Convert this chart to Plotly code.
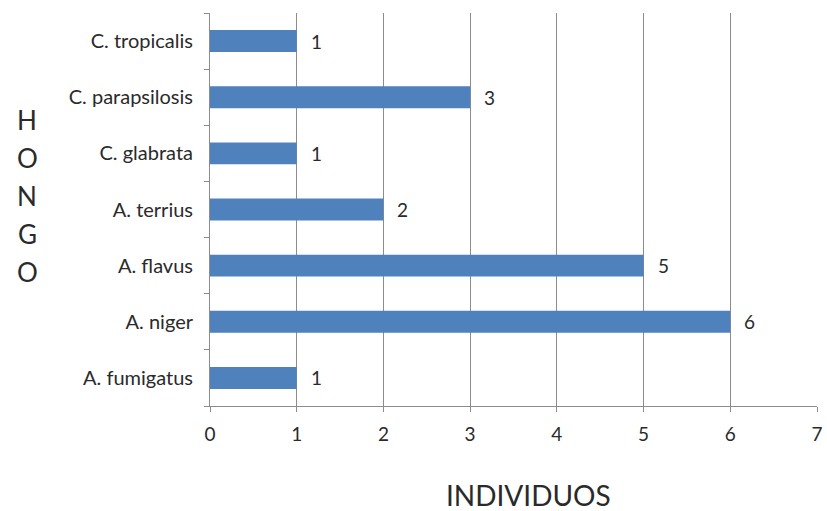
import plotly.graph_objects as go

# Species (bottom to top) and number of individuals
hongos = ["A. fumigatus", "A. niger", "A. flavus", "A. terrius",
          "C. glabrata", "C. parapsilosis", "C. tropicalis"]
individuos = [1, 6, 5, 2, 1, 3, 1]
x_ticks = [0, 1, 2, 3, 4, 5, 6, 7]

FONT = "Lato"
TEXT = "#2a2a2a"
GRID = "#8c8c8c"
BAR = "#4f81bd"

W, H = 827, 511
ml, mr, mt, mb = 210, 10, 13, 105
pw, ph = W - ml - mr, H - mt - mb


def px_x(x):
    return (x - ml) / pw


def px_y(y):
    return 1 - (y - mt) / ph


fig = go.Figure()
fig.add_trace(go.Bar(
    y=hongos, x=individuos, orientation="h",
    marker=dict(color=BAR, line=dict(width=0)),
    hoverinfo="x+y",
))

# value labels to the right of each bar
for h, v in zip(hongos, individuos):
    fig.add_annotation(x=v, y=h, text=str(v), showarrow=False,
                       xanchor="left", xshift=12,
                       font=dict(family=FONT, size=19, color=TEXT))

# vertical axis title, one letter per line
for i, ch in enumerate("HONGO"):
    fig.add_annotation(x=px_x(27), y=px_y(120 + 38 * i), xref="paper", yref="paper",
                       text=ch, showarrow=False, xanchor="center", yanchor="middle",
                       font=dict(family=FONT, size=26, color=TEXT))

fig.add_annotation(x=px_x(528), y=px_y(495), xref="paper", yref="paper",
                   text="INDIVIDUOS", showarrow=False, xanchor="center", yanchor="middle",
                   font=dict(family=FONT, size=28, color=TEXT))

fig.update_layout(
    width=W, height=H,
    margin=dict(l=ml, r=mr, t=mt, b=mb),
    paper_bgcolor="white", plot_bgcolor="white",
    bargap=0.61, showlegend=False,
    font=dict(family=FONT, size=19, color=TEXT),
)
fig.update_xaxes(
    range=[0, 7], tickvals=x_ticks, showgrid=True, gridcolor=GRID, gridwidth=1,
    showline=True, linecolor=GRID, linewidth=1, automargin=False,
    ticks="outside", ticklen=5, tickcolor=GRID, zeroline=False,
    ticklabelstandoff=6,
    tickfont=dict(family=FONT, size=19, color=TEXT),
)
fig.update_yaxes(
    categoryorder="array", categoryarray=hongos, automargin=False,
    showgrid=False, showline=True, linecolor=GRID, linewidth=1,
    ticks="outside", ticklen=5, tickcolor=GRID, tickson="boundaries",
    ticklabelstandoff=12,
    tickfont=dict(family=FONT, size=20, color=TEXT),
)

fig.write_html("out.html")
